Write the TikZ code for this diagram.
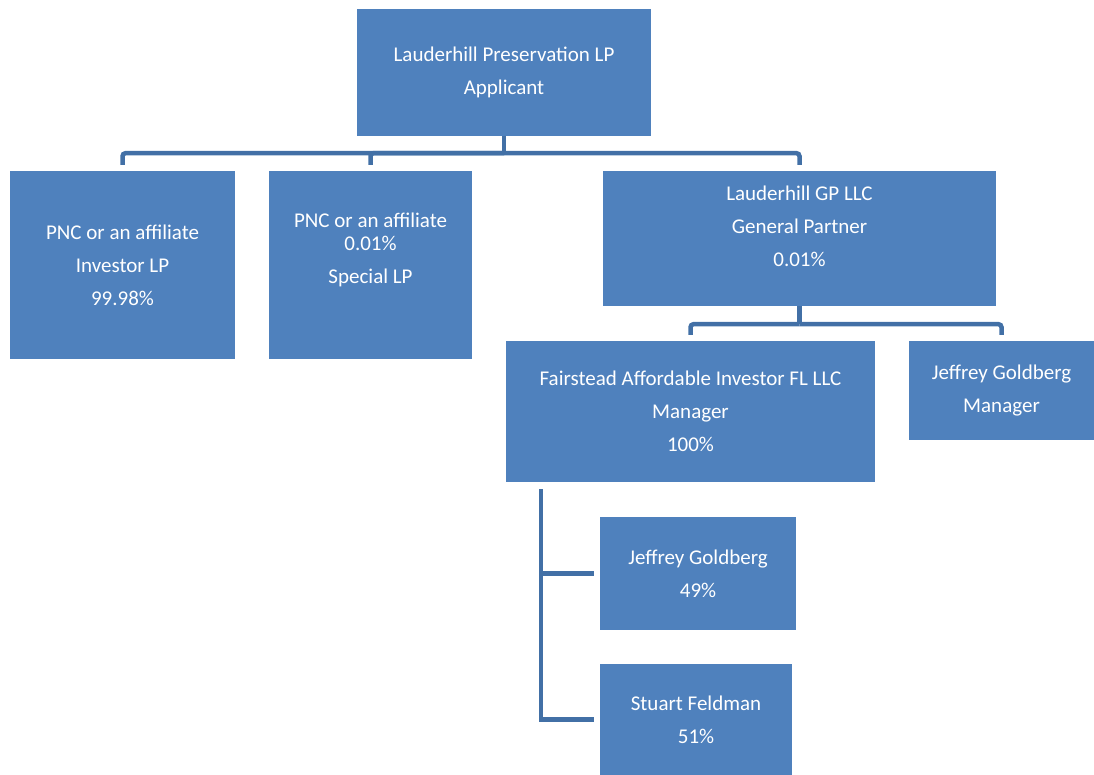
\documentclass[tikz,border=0pt]{standalone}
\usepackage{fontspec}
\setmainfont{Carlito}
\definecolor{boxblue}{RGB}{79,129,189}
\definecolor{linkblue}{RGB}{66,112,166}
\tikzset{
  box/.style={fill=boxblue,text=white,align=center,inner sep=0pt,
    font=\fontsize{21}{33}\selectfont},
  link/.style={draw=linkblue,line width=4.5pt},
}
\begin{document}
\begin{tikzpicture}[x=1pt,y=-1pt]
    \useasboundingbox (0,0) rectangle (1094,775);
    \node[box,minimum width=294pt,minimum height=127pt] (app) at (504,72.5)
      {Lauderhill Preservation LP\\Applicant};
    \node[box,minimum width=225pt,minimum height=188pt] (inv) at (122.5,265)
      {PNC or an affiliate\\Investor LP\\99.98\%};
    \node[box,minimum width=203pt,minimum height=188pt] (spl) at (370.5,265)
      {PNC or an affiliate\\[-10pt]0.01\%\\Special LP\\\mbox{}};
    \node[box,minimum width=393pt,minimum height=135pt] (gp) at (799.5,238.5)
      {Lauderhill GP LLC\\General Partner\\0.01\%\\[-8pt]\mbox{}};
    \node[box,minimum width=369pt,minimum height=141pt] (fai) at (690.5,411.5)
      {Fairstead Affordable Investor FL LLC\\Manager\\100\%};
    \node[box,minimum width=185pt,minimum height=99pt] (mgr) at (1001.5,390.5)
      {Jeffrey Goldberg\\Manager};
    \node[box,minimum width=196pt,minimum height=113pt] (jg) at (698,573.5)
      {Jeffrey Goldberg\\49\%};
    \node[box,minimum width=192pt,minimum height=111pt] (sf) at (696,719.5)
      {Stuart Feldman\\51\%};
    % applicant to partners
    \draw[link] (app.south) -- ++(0,17) coordinate (top bar);
    \draw[link,rounded corners=3pt] (top bar) -| ([yshift=6pt]inv.north);
    \draw[link,rounded corners=3pt] (top bar) -| ([yshift=6pt]spl.north);
    \draw[link,rounded corners=3pt] (top bar) -| ([yshift=6pt]gp.north);
    % general partner to managers
    \draw[link] (gp.south) -- ++(0,18) coordinate (gp bar);
    \draw[link,rounded corners=3pt] (gp bar) -| ([yshift=6pt]fai.north);
    \draw[link,rounded corners=3pt] (gp bar) -| ([yshift=6pt]mgr.north);
    % members
    \coordinate (mem) at ([shift={(35pt,-7pt)}]fai.south west);
    \draw[link] (mem) |- ([xshift=-6pt]sf.west);
    \draw[link] (mem |- jg.west) -- ([xshift=-6pt]jg.west);
\end{tikzpicture}
\end{document}
